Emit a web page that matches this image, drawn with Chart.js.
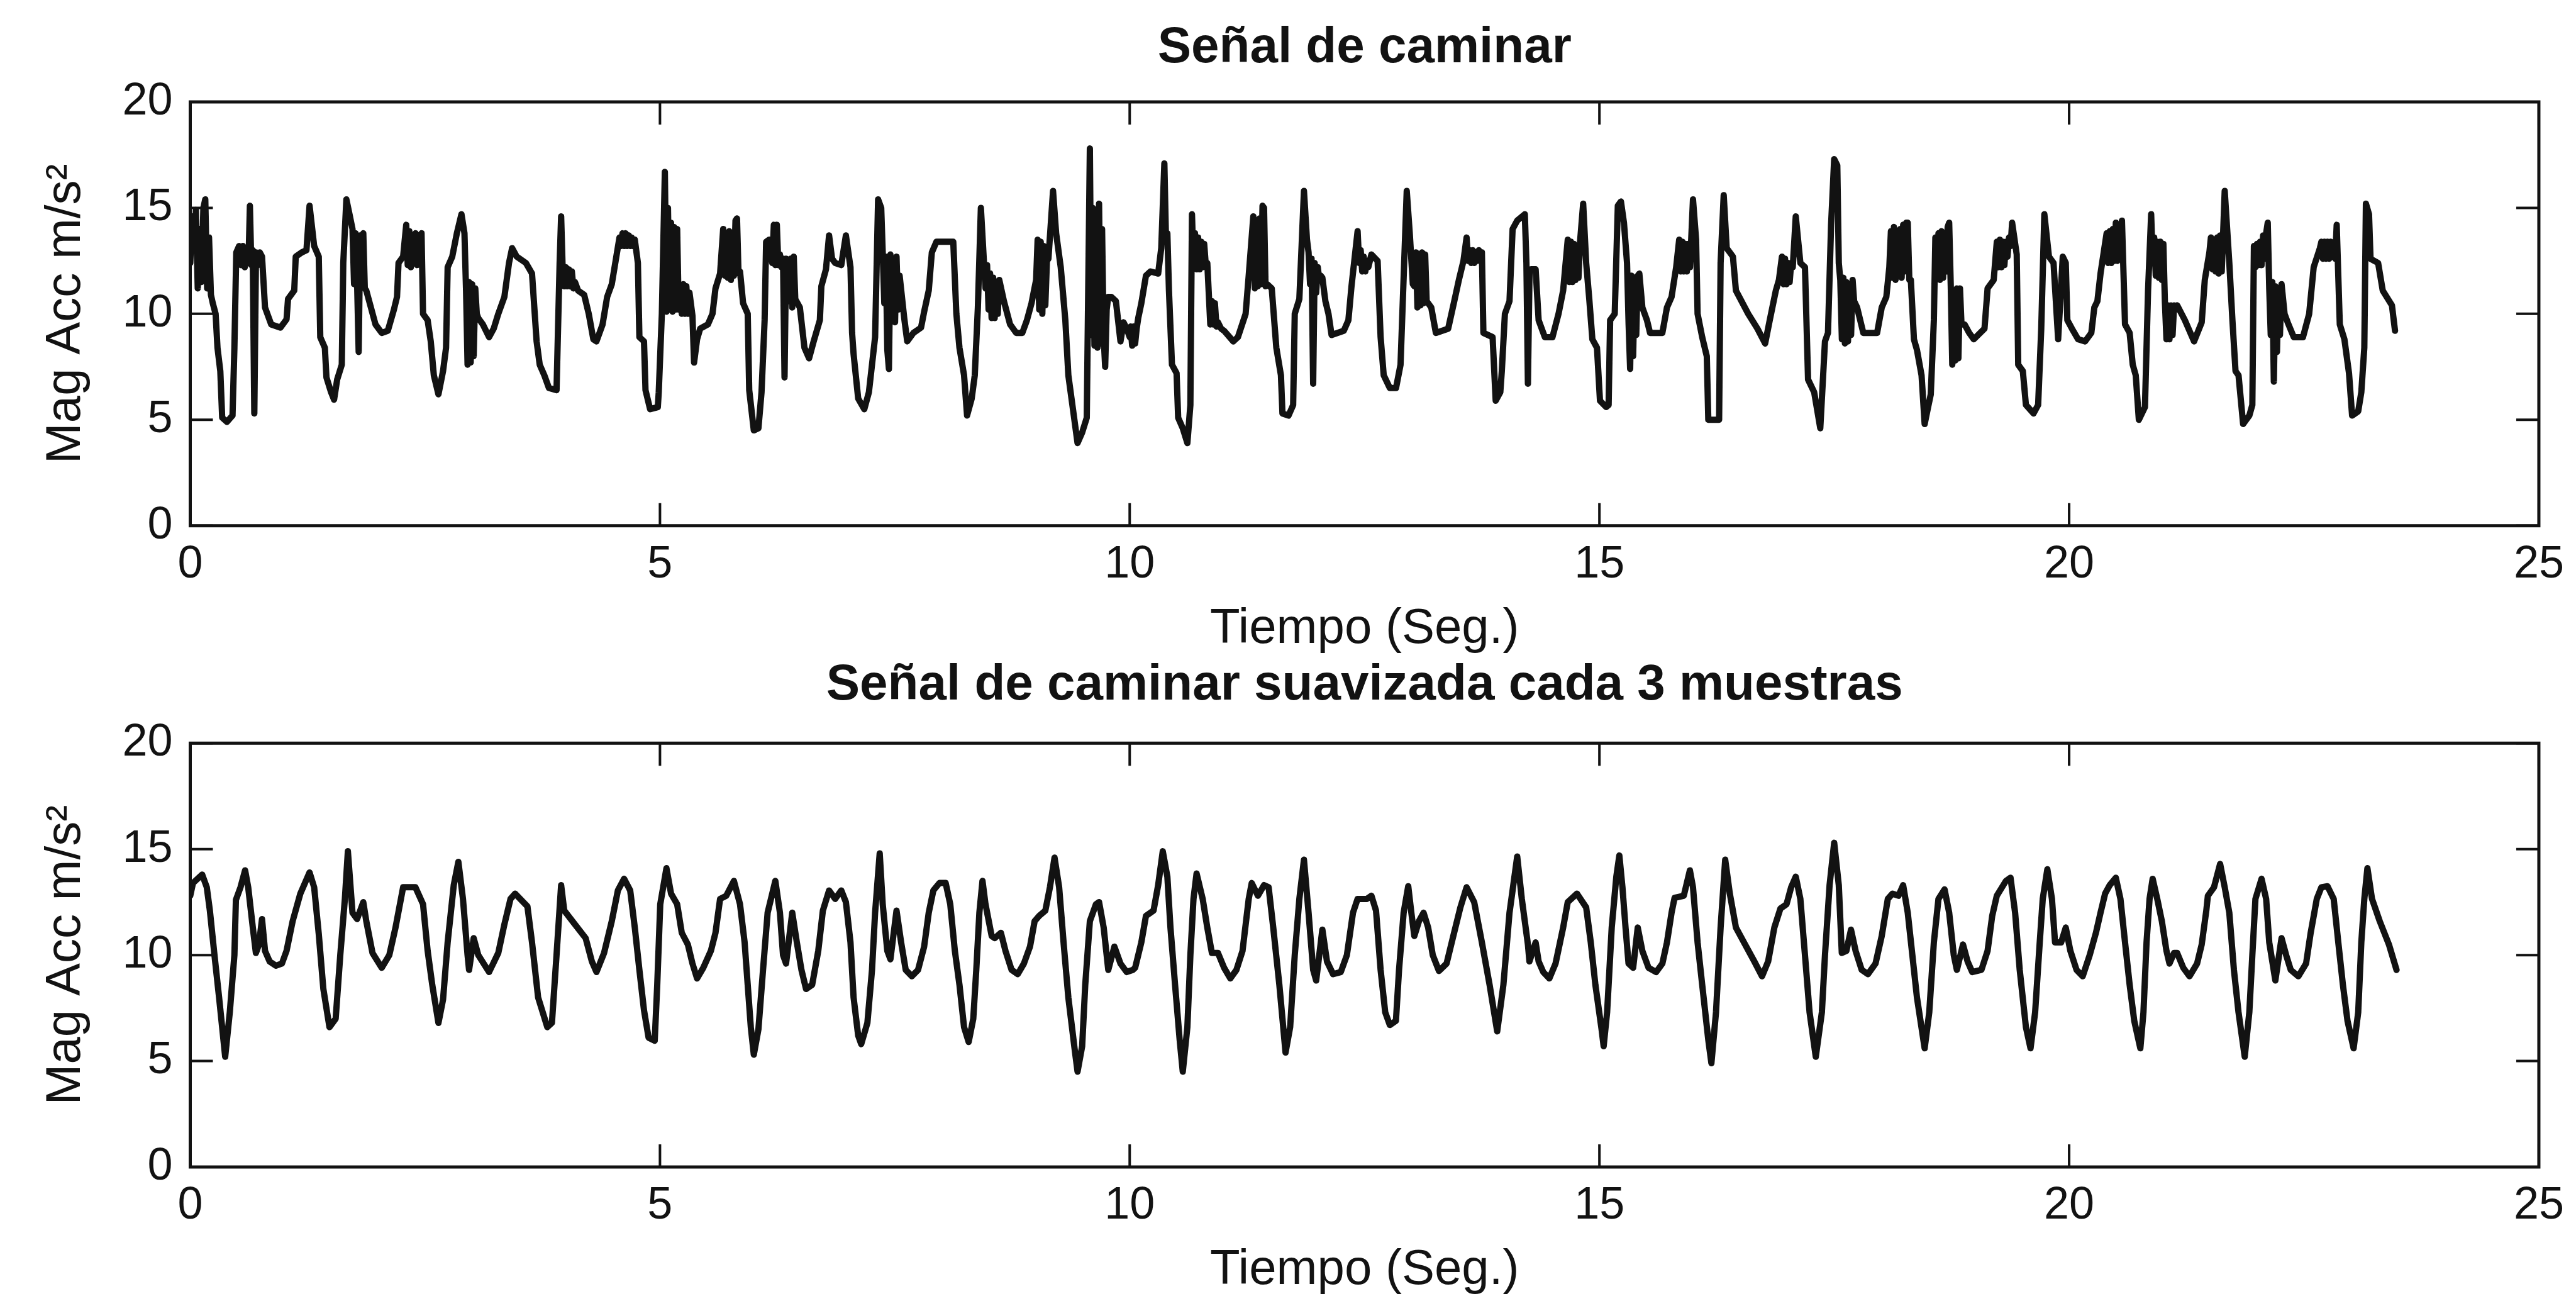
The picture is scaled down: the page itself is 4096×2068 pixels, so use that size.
<!DOCTYPE html>
<html>
<head>
<meta charset="utf-8">
<title>Señal de caminar</title>
<script src="https://cdn.jsdelivr.net/npm/chart.js@4.4.1/dist/chart.umd.min.js"></script>
<style>
  html, body { margin: 0; padding: 0; background: #fff; overflow: hidden; }
  #page { position: relative; width: 4096px; height: 2068px; background: #fff; }
  #page canvas { position: absolute; left: 0; }
</style>
</head>
<body>
<div id="page">
  <canvas id="rawChart" width="4096" height="1045" style="top:0;width:4096px;height:1045px"></canvas>
  <canvas id="smoothChart" width="4096" height="1023" style="top:1045px;width:4096px;height:1023px"></canvas>
</div>
<script>
// ---- texts and ticks ----
const plotTitles = ['Señal de caminar', 'Señal de caminar suavizada cada 3 muestras'];
const timeLabel = 'Tiempo (Seg.)';
const magLabel = 'Mag Acc m/s²';
const timeTicks = [0, 5, 10, 15, 20, 25];
const magTicks = [0, 5, 10, 15, 20];

// ---- raw walking signal: [time s, magnitude m/s²] ----
const rawWalk0to5 = [
  [0.00,12.4],[0.02,14.6],[0.04,13.0],[0.06,14.9],[0.08,11.2],[0.10,14.0],[0.12,11.5],[0.14,15.0],[0.16,15.4],[0.18,11.2],
  [0.20,13.6],[0.22,10.9],[0.24,10.5],[0.27,10.0],[0.29,8.4],[0.32,7.3],[0.34,5.1],[0.39,4.9],[0.45,5.2],[0.47,8.4],
  [0.49,12.9],[0.52,13.2],[0.54,12.3],[0.56,13.2],[0.58,12.2],[0.60,13.1],[0.62,12.4],[0.635,15.1],[0.65,12.3],[0.665,13.0],
  [0.682,5.3],[0.70,12.9],[0.72,12.3],[0.74,12.9],[0.764,12.7],[0.796,10.3],[0.862,9.5],[0.96,9.35],[1.025,9.74],[1.041,10.7],
  [1.107,11.1],[1.123,12.7],[1.188,12.9],[1.237,13.0],[1.270,15.1],[1.319,13.2],[1.368,12.7],[1.384,8.9],[1.433,8.4],[1.450,7.0],
  [1.499,6.3],[1.531,5.95],[1.564,6.9],[1.613,7.6],[1.629,12.4],[1.662,15.4],[1.695,14.7],[1.727,14.0],[1.744,11.4],[1.760,13.8],
  [1.776,11.5],[1.793,8.2],[1.809,13.7],[1.825,11.3],[1.842,13.8],[1.858,11.2],[1.874,11.1],[1.923,10.3],[1.972,9.5],[2.038,9.1],
  [2.103,9.2],[2.168,10.2],[2.201,10.8],[2.217,12.4],[2.266,12.7],[2.299,14.2],[2.315,12.3],[2.332,13.9],[2.348,12.2],[2.364,13.6],
  [2.381,12.4],[2.397,13.8],[2.413,12.3],[2.429,13.7],[2.446,12.4],[2.462,13.8],[2.478,10.0],[2.527,9.7],[2.560,8.7],[2.593,7.1],
  [2.642,6.2],[2.691,7.3],[2.723,8.4],[2.740,12.2],[2.789,12.7],[2.838,13.8],[2.887,14.7],[2.919,13.8],[2.936,11.1],[2.952,7.6],
  [2.968,11.5],[2.985,7.7],[3.001,11.4],[3.017,8.0],[3.034,11.2],[3.050,10.0],[3.066,9.8],[3.115,9.5],[3.181,8.9],[3.230,9.3],
  [3.279,10.0],[3.344,10.8],[3.393,12.4],[3.426,13.1],[3.475,12.7],[3.573,12.4],[3.638,11.9],[3.687,8.7],[3.720,7.6],[3.769,7.1],
  [3.818,6.5],[3.899,6.4],[3.932,12.4],[3.948,14.6],[3.965,12.0],[3.981,11.3],[3.997,12.2],[4.013,11.3],[4.030,12.1],[4.046,11.3],
  [4.062,12.0],[4.079,11.2],[4.095,11.5],[4.128,11.1],[4.193,10.9],[4.242,10.0],[4.291,8.8],[4.324,8.7],[4.389,9.5],[4.438,10.8],
  [4.487,11.4],[4.569,13.6],[4.585,13.2],[4.601,13.8],[4.618,13.2],[4.634,13.8],[4.650,13.2],[4.667,13.7],[4.683,13.2],[4.699,13.6],
  [4.716,13.2],[4.732,13.5],[4.765,12.4],[4.781,8.9],[4.830,8.7],[4.846,6.4],[4.895,5.5],[4.977,5.6]
];
const rawWalk5to10 = [
  [4.987,6.3],[5.020,10.0],[5.052,16.7],[5.070,10.1],[5.085,15.0],[5.102,10.2],[5.118,14.3],[5.134,10.1],[5.150,14.1],[5.167,10.2],
  [5.183,14.0],[5.199,10.2],[5.216,11.3],[5.232,10.0],[5.248,11.4],[5.264,10.0],[5.281,11.3],[5.297,10.0],[5.314,11.0],[5.346,9.9],
  [5.363,7.7],[5.395,8.8],[5.428,9.3],[5.510,9.5],[5.559,10.0],[5.591,11.2],[5.640,11.9],[5.673,14.0],[5.690,11.8],[5.706,13.8],
  [5.722,11.7],[5.738,13.9],[5.755,11.6],[5.771,13.6],[5.787,11.8],[5.804,14.4],[5.820,14.5],[5.836,11.9],[5.852,12.0],[5.885,10.5],
  [5.934,10.0],[5.950,6.4],[5.999,4.5],[6.048,4.6],[6.081,6.3],[6.114,9.7],[6.130,13.4],[6.163,13.5],[6.195,12.4],[6.212,14.2],
  [6.228,12.3],[6.244,14.2],[6.260,12.3],[6.277,12.8],[6.293,12.2],[6.310,12.6],[6.326,7.0],[6.342,12.6],[6.359,12.4],[6.375,10.6],
  [6.391,12.6],[6.408,10.3],[6.424,12.7],[6.440,10.7],[6.489,10.3],[6.538,8.4],[6.587,7.9],[6.636,8.7],[6.702,9.7],[6.718,11.3],
  [6.767,12.1],[6.800,13.7],[6.832,12.6],[6.865,12.4],[6.930,12.3],[6.979,13.7],[7.028,12.2],[7.045,9.1],[7.061,8.1],[7.110,6.0],
  [7.175,5.5],[7.224,6.3],[7.257,7.6],[7.290,8.9],[7.322,15.4],[7.355,15.0],[7.371,12.9],[7.388,10.5],[7.404,12.7],[7.420,8.3],
  [7.437,7.4],[7.453,12.8],[7.469,9.9],[7.486,12.6],[7.502,9.6],[7.518,12.7],[7.535,10.2],[7.551,11.8],[7.600,9.8],[7.632,8.7],
  [7.698,9.1],[7.779,9.35],[7.812,10.1],[7.861,11.1],[7.894,12.9],[7.943,13.4],[8.122,13.4],[8.155,10.0],[8.188,8.4],[8.237,7.1],
  [8.269,5.2],[8.318,6.0],[8.351,7.1],[8.384,10.3],[8.416,15.0],[8.449,12.4],[8.466,11.2],[8.482,12.3],[8.498,10.2],[8.514,11.9],
  [8.530,9.8],[8.547,11.7],[8.563,9.8],[8.580,11.5],[8.596,10.0],[8.612,11.6],[8.661,10.6],[8.727,9.5],[8.792,9.1],[8.857,9.1],
  [8.906,9.7],[8.955,10.5],[9.004,11.6],[9.020,13.5],[9.037,10.2],[9.053,13.4],[9.070,10.0],[9.086,13.2],[9.102,10.4],[9.119,12.5],
  [9.135,12.6],[9.184,15.8],[9.217,13.8],[9.266,12.2],[9.315,9.7],[9.347,7.1],[9.396,5.5],[9.445,3.9],[9.494,4.4],[9.543,5.1],
  [9.576,17.8],[9.592,9.0],[9.608,15.0],[9.625,8.5],[9.641,14.8],[9.657,8.4],[9.674,15.2],[9.690,8.6],[9.706,14.0],[9.722,9.0],
  [9.739,7.5],[9.755,10.2],[9.771,10.8],[9.804,10.8],[9.853,10.6],[9.902,8.7],[9.935,9.6],[9.968,9.3],[10.000,8.9]
];
const rawWalk10to15 = [
  [10.010,9.4],[10.026,8.5],[10.042,9.4],[10.058,8.6],[10.074,9.3],[10.091,9.8],[10.124,10.5],[10.173,11.8],[10.222,12.0],[10.303,11.9],
  [10.336,13.1],[10.369,17.1],[10.385,13.8],[10.401,13.8],[10.418,11.1],[10.450,7.6],[10.499,7.2],[10.516,5.1],[10.565,4.6],[10.614,3.9],
  [10.646,5.7],[10.663,14.7],[10.679,12.3],[10.695,13.8],[10.712,12.1],[10.728,13.6],[10.744,12.1],[10.761,13.4],[10.777,12.2],[10.793,13.3],
  [10.810,12.3],[10.826,12.4],[10.858,9.5],[10.875,10.6],[10.891,9.5],[10.907,10.5],[10.924,9.4],[10.940,9.6],[10.973,9.3],[11.005,9.2],
  [11.103,8.7],[11.152,8.9],[11.234,10.0],[11.267,11.8],[11.316,14.6],[11.332,11.2],[11.349,14.2],[11.365,11.3],[11.381,14.5],[11.397,11.4],
  [11.414,15.1],[11.430,15.0],[11.446,11.3],[11.463,11.4],[11.512,11.2],[11.561,8.4],[11.610,7.1],[11.626,5.3],[11.691,5.2],[11.740,5.7],
  [11.757,10.0],[11.806,10.7],[11.855,15.8],[11.887,13.5],[11.904,12.9],[11.920,11.4],[11.936,12.6],[11.953,6.7],[11.969,12.4],[11.985,11.0],
  [12.002,12.2],[12.018,11.6],[12.034,11.8],[12.051,11.7],[12.083,10.6],[12.116,10.0],[12.149,9.0],[12.279,9.2],[12.328,9.7],[12.361,11.3],
  [12.426,13.9],[12.442,12.4],[12.459,13.0],[12.475,12.0],[12.491,12.7],[12.508,12.0],[12.524,12.5],[12.540,12.2],[12.573,12.8],[12.639,12.5],
  [12.671,8.9],[12.704,7.1],[12.769,6.5],[12.835,6.5],[12.883,7.6],[12.916,11.7],[12.949,15.8],[12.981,13.8],[13.014,11.4],[13.030,11.3],
  [13.047,12.9],[13.063,10.3],[13.079,12.8],[13.096,10.4],[13.112,12.9],[13.128,10.5],[13.145,12.8],[13.161,10.6],[13.210,10.3],[13.259,9.1],
  [13.390,9.3],[13.455,10.6],[13.504,11.6],[13.553,12.5],[13.586,13.6],[13.602,12.5],[13.619,13.0],[13.635,12.4],[13.651,13.0],[13.667,12.4],
  [13.684,12.9],[13.700,12.5],[13.716,13.0],[13.733,12.5],[13.749,12.9],[13.765,9.1],[13.863,8.9],[13.896,5.9],[13.945,6.3],[13.961,7.3],
  [13.994,10.0],[14.043,10.6],[14.076,14.0],[14.125,14.4],[14.206,14.7],[14.223,12.4],[14.239,6.7],[14.256,12.0],[14.272,12.1],[14.321,12.1],
  [14.353,9.7],[14.419,8.9],[14.500,8.9],[14.565,10.0],[14.614,11.1],[14.663,13.5],[14.679,11.5],[14.696,13.4],[14.712,11.5],[14.728,13.3],
  [14.745,11.6],[14.761,13.2],[14.777,11.7],[14.794,13.4],[14.827,15.2],[14.859,12.4],[14.892,10.7],[14.925,8.8],[14.974,8.4],[15.006,5.9],
  [15.072,5.6]
];
const rawWalk15to20 = [
  [15.098,5.7],[15.114,9.7],[15.163,10.0],[15.196,15.1],[15.229,15.3],[15.261,14.3],[15.294,12.4],[15.311,9.5],[15.327,7.4],[15.343,11.8],
  [15.359,8.0],[15.376,11.7],[15.392,9.0],[15.408,11.8],[15.425,11.9],[15.457,10.3],[15.506,9.7],[15.539,9.1],[15.670,9.1],[15.719,10.3],
  [15.768,10.8],[15.817,12.2],[15.849,13.5],[15.866,12.0],[15.882,13.4],[15.898,12.0],[15.915,13.3],[15.931,12.0],[15.947,13.3],[15.964,12.2],
  [15.996,15.4],[16.029,13.5],[16.045,10.0],[16.094,8.9],[16.143,8.0],[16.159,5.0],[16.274,5.0],[16.290,12.4],[16.323,15.6],[16.355,13.1],
  [16.421,12.7],[16.453,11.1],[16.584,10.0],[16.682,9.3],[16.764,8.6],[16.813,9.7],[16.878,11.1],[16.911,11.6],[16.943,12.7],[16.960,11.4],
  [16.976,12.6],[16.992,11.4],[17.009,12.4],[17.025,11.5],[17.041,12.4],[17.058,12.2],[17.090,14.6],[17.139,12.4],[17.188,12.2],[17.221,6.9],
  [17.286,6.3],[17.351,4.6],[17.401,8.7],[17.433,9.1],[17.466,14.2],[17.499,17.3],[17.532,17.0],[17.548,12.4],[17.564,11.6],[17.581,8.8],
  [17.597,11.7],[17.613,8.6],[17.629,11.5],[17.646,8.7],[17.662,11.4],[17.679,9.0],[17.695,11.6],[17.711,10.6],[17.743,10.3],[17.809,9.1],
  [17.956,9.1],[18.005,10.3],[18.054,10.8],[18.086,12.2],[18.103,13.9],[18.119,11.7],[18.135,14.1],[18.152,11.6],[18.168,13.9],[18.184,11.8],
  [18.201,14.0],[18.217,11.7],[18.233,14.2],[18.250,12.0],[18.266,14.3],[18.282,14.3],[18.299,11.6],[18.315,11.6],[18.348,8.8],[18.380,8.3],
  [18.429,7.1],[18.462,4.8],[18.494,5.5],[18.527,6.2],[18.560,9.7],[18.576,13.6],[18.592,11.7],[18.609,13.8],[18.625,11.6],[18.642,13.9],
  [18.658,11.7],[18.674,13.8],[18.690,12.0],[18.707,14.1],[18.723,14.3],[18.740,11.3],[18.756,7.6],[18.772,11.1],[18.789,7.8],[18.805,11.2],
  [18.821,7.9],[18.838,11.2],[18.854,9.5],[18.887,9.5],[18.936,9.1],[18.985,8.8],[19.099,9.3],[19.132,11.2],[19.197,11.6],[19.230,13.4],
  [19.246,12.2],[19.262,13.5],[19.279,12.2],[19.295,13.4],[19.311,12.3],[19.328,13.4],[19.344,12.7],[19.360,13.6],[19.377,13.2],[19.393,14.3],
  [19.442,12.8],[19.458,7.6],[19.507,7.3],[19.540,5.7],[19.621,5.3],[19.670,5.7],[19.703,9.3],[19.736,14.7],[19.785,12.7],[19.834,12.4],
  [19.883,8.8],[19.932,12.7],[19.964,12.4],[19.981,9.7],[20.030,9.3],[20.095,8.8]
];
const rawWalk20toEnd = [
  [20.170,8.7],[20.236,9.1],[20.268,10.3],[20.301,10.6],[20.334,11.9],[20.399,13.8],[20.415,12.4],[20.432,13.9],[20.448,12.4],[20.464,14.0],
  [20.481,12.5],[20.497,14.3],[20.513,12.5],[20.530,14.1],[20.546,12.6],[20.562,14.4],[20.595,9.5],[20.644,9.1],[20.677,7.6],[20.709,7.1],
  [20.742,5.0],[20.807,5.6],[20.840,11.1],[20.873,14.7],[20.889,12.5],[20.905,13.6],[20.922,11.8],[20.938,13.4],[20.954,11.7],[20.970,13.4],
  [20.987,11.6],[21.003,13.3],[21.019,10.6],[21.036,8.8],[21.052,10.4],[21.068,8.8],[21.085,10.4],[21.101,9.0],[21.117,10.4],[21.134,10.2],
  [21.150,10.4],[21.232,9.7],[21.330,8.7],[21.411,9.6],[21.444,11.6],[21.493,12.9],[21.509,13.6],[21.526,12.1],[21.542,13.5],[21.558,12.0],
  [21.575,13.6],[21.591,11.9],[21.607,13.7],[21.624,12.0],[21.656,15.8],[21.705,12.4],[21.738,9.7],[21.771,7.3],[21.803,7.1],[21.852,4.8],
  [21.918,5.2],[21.950,5.7],[21.967,13.2],[21.983,12.2],[21.999,13.3],[22.016,12.3],[22.032,13.4],[22.048,12.3],[22.065,13.7],[22.081,12.6],
  [22.097,13.8],[22.114,14.3],[22.130,11.2],[22.146,9.0],[22.163,11.5],[22.179,6.8],[22.196,11.3],[22.212,8.2],[22.228,11.2],[22.244,9.0],
  [22.261,11.4],[22.293,10.0],[22.326,9.6],[22.391,8.9],[22.489,8.9],[22.555,10.0],[22.603,12.2],[22.669,13.1],[22.685,13.4],[22.701,12.6],
  [22.718,13.4],[22.734,12.6],[22.750,13.4],[22.767,12.6],[22.783,13.4],[22.799,12.7],[22.816,13.3],[22.832,12.6],[22.848,14.2],[22.881,9.5],
  [22.930,8.8],[22.979,7.2],[23.012,5.2],[23.077,5.4],[23.110,6.3],[23.142,8.4],[23.159,15.2],[23.192,14.7],[23.208,12.6],[23.289,12.4],
  [23.338,11.1],[23.436,10.4],[23.469,9.2]
];

// ---- walking signal smoothed over 3 samples: [time s, magnitude m/s²] ----
const smoothWalk0to5 = [
  [0.000,12.8],[0.029,13.4],[0.127,13.8],[0.176,13.2],[0.209,12.1],[0.258,10.0],[0.307,8.0],[0.372,5.2],[0.421,7.3],[0.470,10.0],
  [0.486,12.6],[0.535,13.2],[0.584,14.0],[0.617,13.2],[0.666,11.3],[0.699,10.1],[0.731,10.5],[0.764,11.7],[0.796,10.2],[0.845,9.7],
  [0.911,9.5],[0.976,9.6],[1.025,10.2],[1.090,11.6],[1.172,12.9],[1.270,13.9],[1.319,13.2],[1.368,11.0],[1.417,8.4],[1.482,6.6],
  [1.548,7.0],[1.597,10.0],[1.646,12.65],[1.678,14.9],[1.727,12.0],[1.776,11.7],[1.842,12.5],[1.874,11.6],[1.940,10.1],[2.038,9.4],
  [2.119,10.0],[2.185,11.3],[2.266,13.2],[2.397,13.2],[2.478,12.4],[2.527,10.2],[2.576,8.6],[2.642,6.8],[2.691,7.9],[2.740,10.6],
  [2.805,13.3],[2.854,14.4],[2.903,12.65],[2.952,10.0],[2.968,9.3],[3.017,10.8],[3.066,10.0],[3.181,9.2],[3.279,10.1],[3.344,11.45],
  [3.409,12.65],[3.458,12.9],[3.589,12.3],[3.638,10.6],[3.703,8.0],[3.801,6.6],[3.850,6.8],[3.899,10.0],[3.948,13.3],[3.981,12.1],
  [4.095,11.45],[4.209,10.8],[4.275,9.7],[4.324,9.2],[4.405,10.1],[4.487,11.6],[4.552,13.05],[4.618,13.6],[4.683,13.05],[4.732,11.3],
  [4.781,9.3],[4.830,7.4],[4.879,6.1],[4.944,5.96]
];
const smoothWalk5to10 = [
  [4.971,8.6],[5.003,12.4],[5.069,14.1],[5.118,12.9],[5.183,12.4],[5.232,11.05],[5.297,10.5],[5.346,9.6],[5.395,8.9],[5.461,9.4],
  [5.542,10.2],[5.591,11.05],[5.640,12.65],[5.706,12.8],[5.787,13.5],[5.852,12.4],[5.901,10.6],[5.934,8.6],[5.967,6.6],[5.999,5.3],
  [6.048,6.5],[6.097,9.3],[6.146,12.0],[6.228,13.5],[6.277,12.0],[6.310,10.0],[6.342,9.6],[6.408,12.0],[6.457,10.6],[6.506,9.3],
  [6.555,8.4],[6.620,8.6],[6.685,10.2],[6.734,12.1],[6.800,13.05],[6.865,12.65],[6.930,13.05],[6.979,12.5],[7.028,10.6],[7.061,8.0],
  [7.110,6.2],[7.142,5.8],[7.208,6.8],[7.257,9.3],[7.290,12.0],[7.339,14.8],[7.371,12.4],[7.420,10.2],[7.453,9.8],[7.518,12.1],
  [7.567,10.6],[7.616,9.3],[7.681,9.0],[7.747,9.3],[7.812,10.4],[7.861,12.0],[7.910,13.05],[7.975,13.4],[8.041,13.4],[8.090,12.4],
  [8.139,10.2],[8.188,8.6],[8.237,6.6],[8.286,5.9],[8.335,7.0],[8.367,9.3],[8.400,12.0],[8.433,13.5],[8.465,12.4],[8.531,10.9],
  [8.563,10.8],[8.629,11.05],[8.678,10.2],[8.743,9.3],[8.808,9.1],[8.874,9.6],[8.939,10.4],[8.988,11.6],[9.037,11.85],[9.102,12.1],
  [9.151,13.2],[9.200,14.6],[9.249,13.2],[9.298,10.5],[9.347,8.0],[9.413,5.6],[9.445,4.5],[9.494,5.7],[9.527,8.6],[9.576,11.6],
  [9.641,12.4],[9.674,12.5],[9.723,11.3],[9.772,9.3],[9.837,10.4],[9.902,9.6],[9.968,9.2],[10.033,9.3]
];
const smoothWalk10to15 = [
  [10.058,9.4],[10.124,10.6],[10.173,11.85],[10.254,12.1],[10.303,13.3],[10.352,14.9],[10.401,13.7],[10.434,11.3],[10.483,8.6],[10.532,6.0],
  [10.565,4.5],[10.614,6.6],[10.646,10.0],[10.679,12.65],[10.712,13.85],[10.777,12.65],[10.826,11.3],[10.875,10.1],[10.940,10.1],[11.005,9.4],
  [11.071,8.9],[11.136,9.3],[11.201,10.2],[11.267,12.65],[11.299,13.4],[11.365,12.8],[11.430,13.3],[11.479,13.2],[11.528,11.3],[11.593,8.6],
  [11.659,5.4],[11.708,6.6],[11.757,10.0],[11.806,12.65],[11.855,14.5],[11.904,12.0],[11.953,9.3],[11.985,8.8],[12.051,11.2],[12.100,9.7],
  [12.165,9.1],[12.247,9.2],[12.312,10.0],[12.377,12.0],[12.426,12.65],[12.524,12.65],[12.573,12.8],[12.622,12.1],[12.671,9.3],[12.720,7.3],
  [12.769,6.7],[12.834,6.9],[12.867,9.3],[12.916,12.0],[12.965,13.25],[12.998,12.0],[13.030,10.9],[13.079,11.6],[13.128,12.0],[13.177,11.3],
  [13.226,10.0],[13.292,9.25],[13.373,9.6],[13.439,10.8],[13.520,12.25],[13.586,13.2],[13.667,12.5],[13.749,10.6],[13.831,8.6],[13.912,6.4],
  [13.978,8.6],[14.043,12.0],[14.125,14.65],[14.174,12.65],[14.239,10.5],[14.255,9.7],[14.321,10.6],[14.353,9.7],[14.402,9.2],[14.467,8.9],
  [14.533,9.6],[14.614,11.3],[14.663,12.5],[14.761,12.9],[14.859,12.25],[14.908,10.6],[14.957,8.6],[15.023,6.5],[15.045,5.7]
];
const smoothWalk15to20 = [
  [15.082,7.3],[15.131,11.3],[15.180,13.7],[15.212,14.7],[15.245,13.2],[15.278,11.3],[15.310,9.6],[15.359,9.4],[15.408,11.3],[15.457,10.2],
  [15.523,9.4],[15.604,9.2],[15.670,9.6],[15.719,10.6],[15.768,12.0],[15.800,12.7],[15.898,12.8],[15.963,14.0],[15.996,13.2],[16.045,10.6],
  [16.094,8.6],[16.159,6.0],[16.192,4.9],[16.241,7.3],[16.290,11.3],[16.339,14.5],[16.388,12.9],[16.453,11.3],[16.551,10.5],[16.649,9.7],
  [16.731,9.0],[16.796,9.7],[16.862,11.3],[16.927,12.2],[16.992,12.4],[17.041,13.2],[17.090,13.7],[17.139,12.65],[17.188,10.0],[17.237,7.3],
  [17.303,5.2],[17.368,7.3],[17.401,10.0],[17.450,13.3],[17.499,15.3],[17.548,13.3],[17.580,10.1],[17.629,10.2],[17.678,11.2],[17.727,10.2],
  [17.792,9.3],[17.858,9.1],[17.939,9.6],[18.005,10.9],[18.070,12.65],[18.119,12.9],[18.184,12.8],[18.233,13.3],[18.282,12.0],[18.331,10.0],
  [18.380,8.0],[18.462,5.6],[18.511,7.3],[18.560,10.6],[18.609,12.65],[18.674,13.1],[18.723,12.0],[18.772,10.0],[18.805,9.3],[18.870,10.5],
  [18.919,9.7],[18.968,9.2],[19.066,9.3],[19.132,10.2],[19.181,11.85],[19.230,12.8],[19.327,13.5],[19.376,13.65],[19.425,12.0],[19.474,9.3],
  [19.540,6.6],[19.589,5.6],[19.638,7.3],[19.687,10.6],[19.719,12.65],[19.768,14.05],[19.817,12.65],[19.850,10.6],[19.915,10.6],[19.964,11.3],
  [20.013,10.2],[20.079,9.3],[20.144,9.0]
];
const smoothWalk20toEnd = [
  [20.219,10.0],[20.285,11.05],[20.334,12.0],[20.383,12.9],[20.432,13.3],[20.497,13.65],[20.546,12.65],[20.595,10.6],[20.644,8.6],[20.693,6.9],
  [20.758,5.6],[20.791,7.3],[20.824,10.6],[20.856,12.65],[20.889,13.6],[20.938,12.65],[20.987,11.6],[21.036,10.2],[21.068,9.6],[21.117,10.1],
  [21.150,10.1],[21.215,9.4],[21.281,9.0],[21.362,9.6],[21.411,10.5],[21.460,12.1],[21.477,12.8],[21.542,13.2],[21.607,14.3],[21.656,13.2],
  [21.705,12.0],[21.754,9.3],[21.803,7.3],[21.869,5.2],[21.918,7.3],[21.950,10.0],[21.983,12.65],[22.048,13.6],[22.097,12.65],[22.130,10.6],
  [22.195,8.8],[22.261,10.8],[22.310,10.0],[22.359,9.3],[22.440,9.0],[22.522,9.6],[22.571,11.05],[22.636,12.65],[22.685,13.2],[22.750,13.25],
  [22.816,12.65],[22.865,10.6],[22.914,8.6],[22.963,6.9],[23.028,5.6],[23.077,7.3],[23.110,10.6],[23.142,12.65],[23.175,14.1],[23.224,12.65],
  [23.306,11.6],[23.404,10.5],[23.485,9.3]
];

const rawWalk = [].concat(rawWalk0to5, rawWalk5to10, rawWalk10to15, rawWalk15to20, rawWalk20toEnd);
const smoothWalk = [].concat(smoothWalk0to5, smoothWalk5to10, smoothWalk10to15, smoothWalk15to20, smoothWalk20toEnd);

// ---- styling ----
const FONT = '"Liberation Sans", Arial, Helvetica, sans-serif';
const INK = '#121212';

// Boxed axes with inward tick marks on all four sides (MATLAB style)
const boxedAxes = {
  id: 'boxedAxes',
  afterDatasetsDraw(chart, args, opts) {
    const { ctx, chartArea: a } = chart;
    const xs = chart.scales.x, ys = chart.scales.y;
    const len = opts.tickLength;
    ctx.save();
    ctx.strokeStyle = opts.color;
    ctx.lineWidth = opts.tickWidth;
    ctx.lineCap = 'butt';
    ctx.beginPath();
    xs.ticks.forEach(t => {
      const px = xs.getPixelForValue(t.value);
      ctx.moveTo(px, a.bottom); ctx.lineTo(px, a.bottom - len);
      ctx.moveTo(px, a.top); ctx.lineTo(px, a.top + len);
    });
    ys.ticks.forEach(t => {
      const py = ys.getPixelForValue(t.value);
      ctx.moveTo(a.left, py); ctx.lineTo(a.left + len, py);
      ctx.moveTo(a.right, py); ctx.lineTo(a.right - len, py);
    });
    ctx.stroke();
    ctx.lineWidth = opts.frameWidth;
    ctx.lineJoin = 'miter';
    ctx.strokeRect(a.left, a.top, a.right - a.left, a.bottom - a.top);
    ctx.restore();
  }
};

function buildChart(canvasId, titleText, series, g) {
  const points = series.map(p => ({ x: p[0], y: p[1] }));
  return new Chart(document.getElementById(canvasId), {
    type: 'line',
    data: {
      datasets: [{
        data: points,
        borderColor: INK,
        borderWidth: 10,
        pointRadius: 0,
        tension: 0,
        fill: false,
        borderJoinStyle: 'round',
        borderCapStyle: 'round'
      }]
    },
    options: {
      responsive: false,
      animation: false,
      devicePixelRatio: 1,
      events: [],
      layout: { padding: { left: 0, right: 54, top: 0, bottom: 0 } },
      plugins: {
        legend: { display: false },
        tooltip: { enabled: false },
        title: {
          display: true,
          fullSize: false,
          text: titleText,
          color: INK,
          font: { family: FONT, size: 80, weight: 'bold', lineHeight: 1.1 },
          padding: { top: g.titleTop, bottom: g.titleBottom }
        },
        boxedAxes: { color: INK, tickLength: 36, tickWidth: 4, frameWidth: 5 }
      },
      scales: {
        x: {
          type: 'linear',
          position: 'bottom',
          min: timeTicks[0],
          max: timeTicks[timeTicks.length - 1],
          afterBuildTicks: s => { s.ticks = timeTicks.map(v => ({ value: v })); },
          afterFit: s => { s.height = g.xAxisHeight; },
          grid: { display: false, drawTicks: false },
          border: { display: false },
          ticks: { color: INK, font: { family: FONT, size: 72, lineHeight: 1.2 }, padding: 19, maxRotation: 0, autoSkip: false },
          title: {
            display: true,
            text: timeLabel,
            color: INK,
            font: { family: FONT, size: 78, lineHeight: 1 },
            padding: { top: 0, bottom: g.xTitleBottom }
          }
        },
        y: {
          type: 'linear',
          position: 'left',
          min: magTicks[0],
          max: magTicks[magTicks.length - 1],
          afterBuildTicks: s => { s.ticks = magTicks.map(v => ({ value: v })); },
          afterFit: s => { s.width = 302.5; },
          grid: { display: false, drawTicks: false },
          border: { display: false },
          ticks: { color: INK, font: { family: FONT, size: 72, lineHeight: 1.2 }, padding: 28 },
          title: {
            display: true,
            text: magLabel,
            color: INK,
            font: { family: FONT, size: 78, lineHeight: 1 },
            padding: { top: 66, bottom: 0 }
          }
        }
      }
    },
    plugins: [boxedAxes]
  });
}

buildChart('rawChart', plotTitles[0], rawWalk,
  { titleTop: 33, titleBottom: 41, xAxisHeight: 209.3, xTitleBottom: 6 });
buildChart('smoothChart', plotTitles[1], smoothWalk,
  { titleTop: 1, titleBottom: 47.3, xAxisHeight: 213, xTitleBottom: 10 });
</script>
</body>
</html>
